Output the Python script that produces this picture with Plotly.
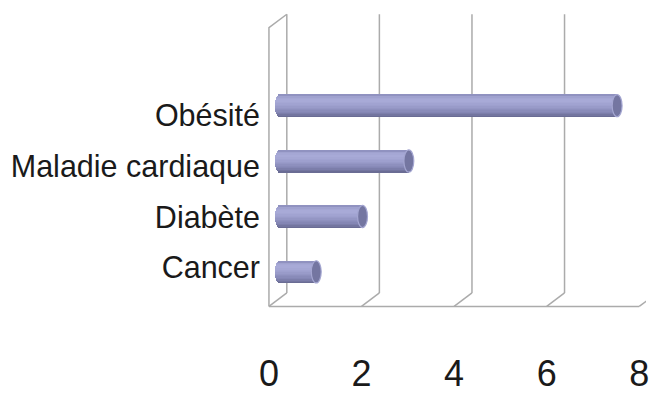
import numpy as np
import plotly.graph_objects as go

# Data (bottom to top)
categories = ["Cancer", "Diabète", "Maladie cardiaque", "Obésité"]
values = [1, 2, 3, 7.5]
x_ticks = [0, 2, 4, 6, 8]

positions = list(range(len(categories)))

# 3D-look geometry in axis units
DEPTH_X = 0.386      # shift of the back wall to the right
DEPTH_Y = 0.243      # shift of the back wall upwards
FLOOR_Y = -0.624     # front floor edge
WALL_TOP = 4.65      # top of the back wall
BAR_DX = 0.129       # bars sit a little behind the front plane
BAR_H = 0.40         # bar thickness
CAP = 0.107          # half width of the elliptical end faces
N_STRIPS = 16

GRID = "#ABABAB"

# Vertical shading of the cylinders, bottom -> top
stops = [(0.0, (0x66, 0x68, 0x8F)), (0.2, (0x82, 0x84, 0xB2)),
         (0.5, (0x9C, 0x9E, 0xCC)), (0.75, (0xAA, 0xAC, 0xD9)),
         (0.9, (0xA2, 0xA4, 0xD1)), (1.0, (0x88, 0x8A, 0xB8))]


def shade(f):
    for (f0, c0), (f1, c1) in zip(stops[:-1], stops[1:]):
        if f0 <= f <= f1:
            k = (f - f0) / (f1 - f0)
            c = [round(a + (b - a) * k) for a, b in zip(c0, c1)]
            return "rgb(%d,%d,%d)" % tuple(c)
    return "rgb(%d,%d,%d)" % stops[-1][1]


fig = go.Figure()

h = BAR_H / N_STRIPS
for i in range(N_STRIPS):
    frac = (i + 0.5) / N_STRIPS
    tc = frac * 2 - 1
    s = np.sqrt(max(0.0, 1 - tc * tc))
    base = [BAR_DX + CAP * (1 - s)] * len(values)
    ends = [v + BAR_DX - CAP for v in values]
    fig.add_trace(go.Bar(
        y=positions,
        x=[e - b for e, b in zip(ends, base)],
        base=base,
        orientation="h",
        width=h * 1.08,
        offset=-BAR_H / 2 + i * h,
        marker=dict(color=shade(frac), line=dict(width=0)),
        showlegend=False,
        hoverinfo="skip",
    ))

shapes = []
# back-wall gridlines and floor connectors
for t in x_ticks:
    shapes.append(dict(type="line", xref="x", yref="y", layer="below",
                       x0=t + DEPTH_X, x1=t + DEPTH_X,
                       y0=FLOOR_Y + DEPTH_Y, y1=WALL_TOP,
                       line=dict(color=GRID, width=1.5)))
    shapes.append(dict(type="line", xref="x", yref="y", layer="below",
                       x0=t, x1=t + DEPTH_X,
                       y0=FLOOR_Y, y1=FLOOR_Y + DEPTH_Y,
                       line=dict(color=GRID, width=1.5)))
# front floor edge
shapes.append(dict(type="line", xref="x", yref="y", layer="below",
                   x0=x_ticks[0], x1=x_ticks[-1], y0=FLOOR_Y, y1=FLOOR_Y,
                   line=dict(color=GRID, width=1.5)))
# side wall
shapes.append(dict(type="path", xref="x", yref="y", layer="below",
                   path="M %f,%f L %f,%f L %f,%f" % (
                       x_ticks[0], FLOOR_Y,
                       x_ticks[0], WALL_TOP - DEPTH_Y,
                       x_ticks[0] + DEPTH_X, WALL_TOP),
                   line=dict(color=GRID, width=1.5)))
# end faces of the cylinders
for p, v in zip(positions, values):
    shapes.append(dict(type="circle", xref="x", yref="y", layer="above",
                       x0=v + BAR_DX - 2 * CAP, x1=v + BAR_DX,
                       y0=p - BAR_H / 2, y1=p + BAR_H / 2,
                       fillcolor="#7476A1",
                       line=dict(color="#A4A6D1", width=1.2)))

fig.update_layout(
    width=649, height=394,
    margin=dict(l=262, r=0, t=0, b=64),
    paper_bgcolor="white", plot_bgcolor="white",
    barmode="overlay", bargap=0,
    shapes=shapes,
    font=dict(family="Liberation Sans, Arial, sans-serif", color="#1a1a1a"),
    xaxis=dict(range=[-7 / 46.65, 380 / 46.65], tickvals=x_ticks,
               ticktext=[str(t) for t in x_ticks],
               showgrid=False, zeroline=False, showline=False, ticks="",
               tickfont=dict(size=36), ticklabelstandoff=32,
               ticklabeloverflow="allow"),
    yaxis=dict(range=[-0.815, 4.907], showticklabels=False,
               showgrid=False, zeroline=False, showline=False, ticks=""),
    yaxis2=dict(range=[-0.975, 5.275], overlaying="y", side="left",
                anchor="x", tickvals=positions, ticktext=categories,
                showgrid=False, zeroline=False, showline=False, ticks="",
                tickfont=dict(size=30.5), ticklabelstandoff=1),
)
# invisible trace so the label axis is drawn
fig.add_trace(go.Scatter(x=[None], y=[None], yaxis="y2", showlegend=False,
                         hoverinfo="skip"))

fig.write_html("out.html")
